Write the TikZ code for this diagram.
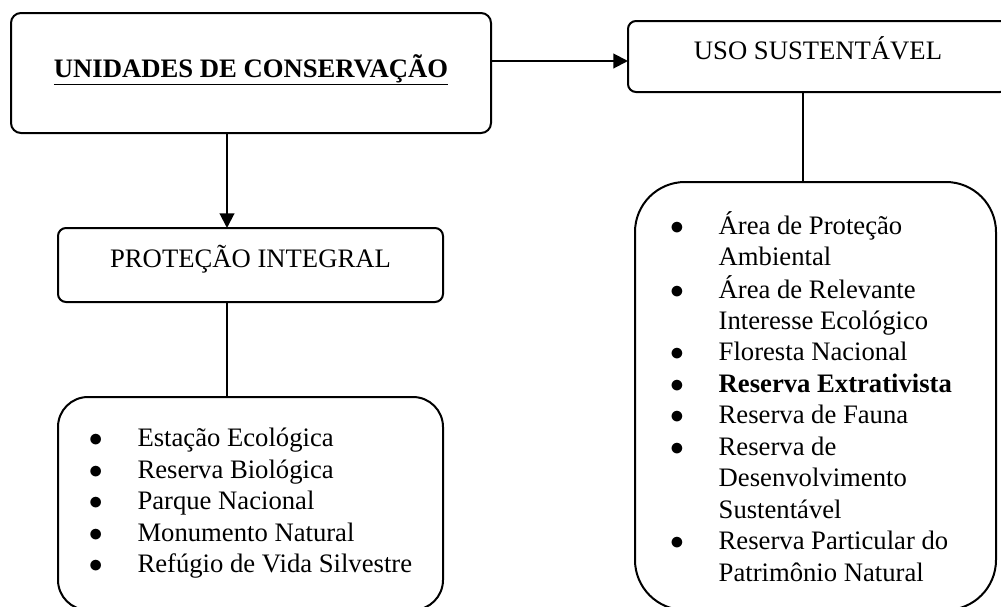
\documentclass[tikz,border=0pt]{standalone}
\usepackage{fontspec}
\setmainfont{Liberation Serif}
\usetikzlibrary{arrows.meta}

\newcommand{\blt}{$\bullet$}

\tikzset{every picture/.style={line width=1.5pt}}
\tikzset{
  txt/.style={font=\fontsize{20}{23.6}\selectfont},
  rbox/.style={draw, rounded corners=6pt, inner sep=0pt, outer sep=0pt, align=center, txt},
  arr/.style={-{Triangle[length=11pt,width=11pt]}},
}

\begin{document}
\begin{tikzpicture}[x=0.75pt,y=0.75pt,yscale=-1,xscale=1]
\useasboundingbox (0,0) rectangle (1001,607); %set diagram size 1001 x 607

%Shape: Rounded Rect [id:uc] 
\node[rbox, rounded corners=7.5pt, minimum width=360pt, minimum height=90pt, text height=14pt, text depth=8pt] (UC) at (251,73) {\underline{\textbf{UNIDADES DE CONSERVAÇÃO}}};
%Shape: Rounded Rect [id:us] 
\node[rbox, minimum width=285pt, minimum height=53.25pt, text height=14pt, text depth=9pt] (US) at (818,56.5) {USO SUSTENTÁVEL};
%Shape: Rounded Rect [id:pi] 
\node[rbox, minimum width=288.75pt, minimum height=55.5pt, text height=14pt, text depth=10.8pt] (PI) at (250.5,265) {PROTEÇÃO INTEGRAL};

%Shape: Rounded Rect [id:listpi] 
\node[rbox, rounded corners=22.5pt, minimum width=288.75pt, minimum height=159.75pt] (LL) at (250.5,503.5) {%
\begin{tabular}{@{}p{36.5pt}@{}l@{}}
\blt & Estação Ecológica\\
\blt & Reserva Biológica\\
\blt & Parque Nacional\\
\blt & Monumento Natural\\
\blt & Refúgio de Vida Silvestre
\end{tabular}};
%Shape: Rounded Rect [id:listus] 
\node[rbox, rounded corners=37.5pt, minimum width=270.75pt, minimum height=321pt] (LR) at (815.5,396) {%
\raisebox{-3.75pt}[\height][\depth]{%
\begin{tabular}{@{}p{36.5pt}@{}l@{\hspace{6.75pt}}}
\blt & Área de Proteção\\
 & Ambiental\\
\blt & Área de Relevante\\
 & Interesse Ecológico\\
\blt & Floresta Nacional\\
\blt & \textbf{Reserva Extrativista}\\
\blt & Reserva de Fauna\\
\blt & Reserva de\\
 & Desenvolvimento\\
 & Sustentável\\
\blt & Reserva Particular do\\
 & Patrimônio Natural
\end{tabular}}};

% Connectors
\coordinate (colL) at (227,0);
\coordinate (colR) at (803,0);
\coordinate (rowT) at (0,61);
\draw[arr] (UC.east |- rowT) -- (US.west |- rowT);
\draw[arr] (UC.south -| colL) -- (PI.north -| colL);
\draw (PI.south -| colL) -- (LL.north -| colL);
\draw (US.south -| colR) -- (LR.north -| colR);

\end{tikzpicture}
\end{document}
